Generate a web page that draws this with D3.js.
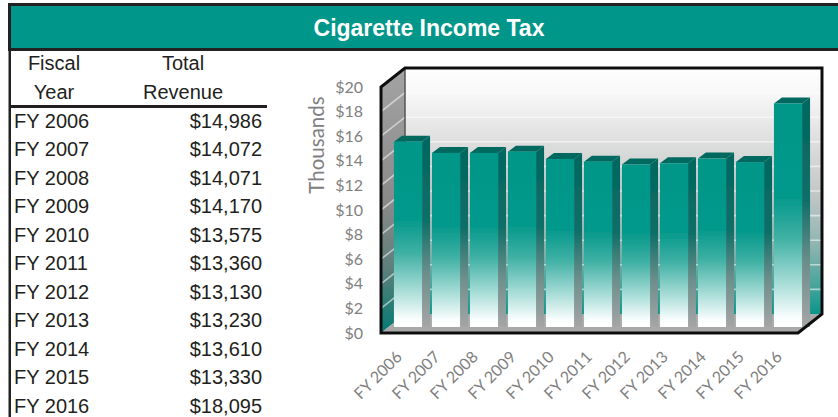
<!DOCTYPE html>
<html><head><meta charset="utf-8">
<script src="https://cdn.jsdelivr.net/npm/d3@7/dist/d3.min.js"></script>
<style>html,body{margin:0;padding:0;background:#fff}svg{display:block}</style>
</head><body><svg id="c" width="838" height="417"></svg>
<script>
const title = "Cigarette Income Tax";
const categories = ["FY 2006","FY 2007","FY 2008","FY 2009","FY 2010","FY 2011","FY 2012","FY 2013","FY 2014","FY 2015","FY 2016"];
const revenue = [14986,14072,14071,14170,13575,13360,13130,13230,13610,13330,18095];
const revenueLabels = ["$14,986","$14,072","$14,071","$14,170","$13,575","$13,360","$13,130","$13,230","$13,610","$13,330","$18,095"];
const yTicks = [0,2,4,6,8,10,12,14,16,18,20];

const svg = d3.select("#c");
const defs = svg.append("defs");
function grad(id, stops, x2=0, y2=1){
  const g = defs.append("linearGradient").attr("id",id).attr("x1",0).attr("y1",0).attr("x2",x2).attr("y2",y2);
  stops.forEach(s=>g.append("stop").attr("offset",s[0]).attr("stop-color",s[1]));
}
grad("wall",[[0,"#ffffff"],[0.12,"#f6f6f6"],[0.3,"#dedede"],[0.5,"#c4c8c8"],[0.72,"#8fb5b0"],[0.9,"#3fa39a"],[1,"#0c9589"]]);
grad("lwall",[[0,"#a3a3a3"],[0.5,"#8a8a8a"],[0.75,"#5f7f7c"],[1,"#047a72"]]);
grad("front",[[0,"#009688"],[0.42,"#04998b"],[0.6,"#3fb0a4"],[0.8,"#a6dcd6"],[0.96,"#fbfefe"],[1,"#ffffff"]]);
grad("side",[[0,"#00675f"],[0.45,"#0f6f68"],[0.72,"#6c8e8b"],[1,"#a5a5a5"]]);
const soft = defs.append("filter").attr("id","soft").attr("x","-5%").attr("y","-5%").attr("width","110%").attr("height","110%");
soft.append("feGaussianBlur").attr("stdDeviation",0.5);

// Header band
svg.append("rect").attr("x",8).attr("y",3).attr("width",830).attr("height",48).attr("fill","#222");
svg.append("rect").attr("x",11).attr("y",6).attr("width",827).attr("height",42).attr("fill","#00968a");
svg.append("rect").attr("x",8.5).attr("y",3).attr("width",2.5).attr("height",414).attr("fill","#222");
svg.append("text").attr("x",429).attr("y",36).attr("text-anchor","middle")
  .attr("font-family","Liberation Sans").attr("font-weight","bold").attr("font-size",23).attr("fill","#fff").text(title);

// Table
const tbl = svg.append("g").attr("font-family","Liberation Sans").attr("font-size",20).attr("fill","#231f20");
[["Fiscal",54,70],["Year",54,99],["Total",183,70],["Revenue",183,99]].forEach(h=>
  tbl.append("text").attr("x",h[1]).attr("y",h[2]).attr("text-anchor","middle").text(h[0]));
tbl.append("rect").attr("x",11).attr("y",105).attr("width",256).attr("height",3).attr("fill","#231f20");
const rowY = d3.scalePoint().domain(categories).range([127.5,412.5]);
tbl.selectAll(".cat").data(categories).join("text").attr("x",14).attr("y",d=>rowY(d)).text(d=>d);
tbl.selectAll(".val").data(revenueLabels).join("text").attr("x",262).attr("text-anchor","end")
  .attr("y",(d,i)=>rowY(categories[i])).text(d=>d);

// 3D chart
const dx = 24, dy = -19;               // wall depth
const fx0 = 381, fx1 = 798, fy0 = 333; // front floor edge
const y = d3.scaleLinear().domain([0,20]).range([fy0,fy0-246]);
const chart = svg.append("g").attr("filter","url(#soft)");
const wallTop = y(20);
// back wall
chart.append("rect").attr("x",fx0+dx).attr("y",wallTop+dy).attr("width",fx1-fx0).attr("height",fy0-wallTop).attr("fill","url(#wall)");
// left wall
chart.append("path").attr("d",`M${fx0},${wallTop}L${fx0+dx},${wallTop+dy}V${fy0+dy}L${fx0},${fy0}Z`).attr("fill","url(#lwall)");
// gridlines
const gl = chart.append("g").attr("stroke","#fff").attr("stroke-opacity",0.55).attr("stroke-width",1.6).attr("fill","none");
yTicks.filter(t=>t>0).forEach(t=>{
  gl.append("path").attr("d",`M${fx0},${y(t)}L${fx0+dx},${y(t)+dy}H${fx1+dx}`);
});
// floor
chart.append("path").attr("d",`M${fx0},${fy0}L${fx0+dx},${fy0+dy}H${fx1+dx}L${fx1},${fy0}Z`).attr("fill","#a9a9a9");
// inner back corner
chart.append("path").attr("fill","none").attr("stroke-width",1.5).attr("stroke","#555").attr("d",`M${fx0+dx},${wallTop+dy}V${fy0+dy}`);
// bars
const band = d3.scaleBand().domain(categories).range([389,389+38*11]).paddingInner(0.26).paddingOuter(0.13);
const base = fy0-6, off = base-fy0-1, bw = band.bandwidth(), sd = 8, st = -6;
const bars = chart.selectAll(".bar").data(categories.map((c,i)=>({c,v:revenue[i]/1000}))).join("g");
bars.append("path").attr("fill","url(#side)").attr("d",d=>{
  const x=band(d.c)+bw, t=y(d.v)+off; return `M${x},${t}L${x+sd},${t+st}V${base}H${x}Z`;});
bars.append("path").attr("fill","#00695f").attr("d",d=>{
  const x=band(d.c), t=y(d.v)+off; return `M${x},${t}L${x+sd},${t+st}H${x+bw+sd}L${x+bw},${t}Z`;});
bars.append("rect").attr("fill","url(#front)").attr("x",d=>band(d.c)).attr("y",d=>y(d.v)+off)
  .attr("width",bw).attr("height",d=>base-(y(d.v)+off));
// frame
const fr = chart.append("g").attr("fill","none").attr("stroke","#111").attr("stroke-linejoin","miter");
fr.append("path").attr("stroke-width",3).attr("d",`M${fx0},${fy0}V${wallTop}L${fx0+dx},${wallTop+dy}H${fx1+dx}V${fy0+dy}L${fx1},${fy0}Z`);

// Axis labels
const axG = svg.append("g").attr("transform","translate(363,0)")
  .call(d3.axisLeft(y).tickValues(yTicks).tickFormat(d=>"$"+d).tickSize(0).tickPadding(0));
axG.select(".domain").remove();
axG.selectAll("text").attr("font-family","Lato").attr("font-size",16).attr("fill","#808080");
svg.append("text").attr("transform","translate(324,145) rotate(-90)").attr("text-anchor","middle")
  .attr("font-family","Lato").attr("font-size",20.5).attr("fill","#808080").text("Thousands");
svg.selectAll(".xl").data(categories).join("text")
  .attr("transform",d=>`translate(${band(d)+bw/2-5},358) rotate(-45)`).attr("text-anchor","end")
  .attr("font-family","Lato").attr("font-size",16).attr("fill","#808080").text(d=>d);
</script></body></html>
